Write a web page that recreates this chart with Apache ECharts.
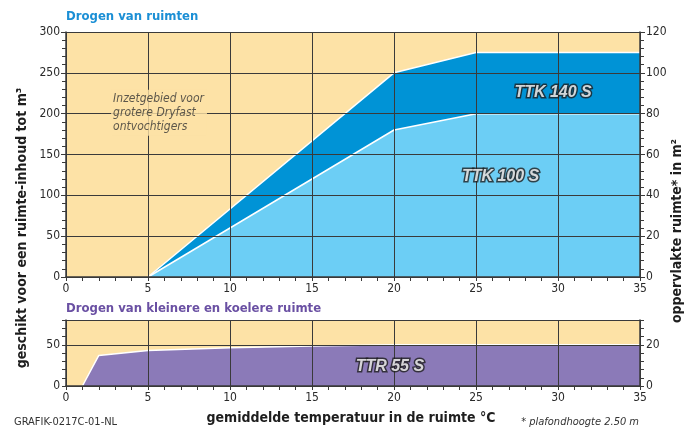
<!DOCTYPE html>
<html>
<head>
<meta charset="utf-8">
<script src="https://cdn.jsdelivr.net/npm/echarts@6/dist/echarts.min.js"></script>
<style>
	html, body { margin: 0; padding: 0; background: #fff; }
	#chart { width: 689px; height: 428px; }
</style>
</head>
<body>
<div id="chart"></div>
<script>
// 数据
let temps_ttk140 = [5, 20, 25, 35];
let vol_ttk140 = [0, 250, 275, 275];
let temps_ttk100 = [5, 20, 25, 35];
let vol_ttk100 = [0, 180, 200, 200];
let temps_ttr55 = [1, 2, 5, 10, 15, 20, 35];
let vol_ttr55 = [0, 37, 43, 46.5, 48.5, 50, 50];
let x_ticks = [0, 5, 10, 15, 20, 25, 30, 35];

let font = '"DejaVu Sans Condensed", "Liberation Sans Narrow", sans-serif';
let peach = '#FDE2A6';
let grid_color = '#3a3a3a';
let txt = '#2a2a2a';

let zip = (xs, ys) => xs.map((x, i) => [x, ys[i]]);

let chart = echarts.init(document.getElementById('chart'), null, { renderer: 'canvas' });

// 公共坐标轴样式
let x_axis = (grid) => ({
	type: 'value',
	gridIndex: grid,
	min: x_ticks[0],
	max: x_ticks[x_ticks.length - 1],
	interval: 5,
	z: 3,
	axisLine: { lineStyle: { color: grid_color, width: 1.5 } },
	axisTick: { show: true, length: 4, lineStyle: { color: grid_color } },
	minorTick: { show: true, splitNumber: 5, length: 4, lineStyle: { color: grid_color } },
	axisLabel: { color: txt, fontFamily: font, fontSize: 12, margin: 6 },
	splitLine: { show: true, lineStyle: { color: grid_color, width: 1 } },
});

let label_style = {
	show: true,
	color: '#fff',
	fontFamily: '"Liberation Sans", Arial, sans-serif',
	fontStyle: 'italic',
	fontWeight: 'bold',
	fontSize: 16,
	textBorderColor: '#1e1e1e',
	textBorderWidth: 3,
	position: 'inside',
	formatter: (p) => p.name,
};

let option = {
	animation: false,
	grid: [
		{ left: 66, right: 49, top: 32, height: 245, show: true, backgroundColor: peach, borderWidth: 0 },
		{ left: 66, right: 49, top: 320, height: 66, show: true, backgroundColor: peach, borderWidth: 0 },
	],
	xAxis: [x_axis(0), x_axis(1)],
	yAxis: [
		{
			type: 'value', gridIndex: 0, position: 'left', min: 0, max: 300, interval: 50, z: 3,
			axisLine: { show: true, lineStyle: { color: grid_color, width: 1.5 } },
			axisTick: { show: true, length: 5, lineStyle: { color: grid_color } },
			minorTick: { show: true, splitNumber: 5, length: 4, lineStyle: { color: grid_color } },
			axisLabel: { color: txt, fontFamily: font, fontSize: 12, margin: 6 },
			splitLine: { show: true, lineStyle: { color: grid_color, width: 1 } },
		},
		{
			type: 'value', gridIndex: 0, position: 'right', min: 0, max: 120, interval: 20, z: 3,
			axisLine: { show: true, lineStyle: { color: grid_color, width: 1.5 } },
			axisTick: { show: true, length: 5, lineStyle: { color: grid_color } },
			minorTick: { show: true, splitNumber: 5, length: 4, lineStyle: { color: grid_color } },
			axisLabel: { color: txt, fontFamily: font, fontSize: 12, margin: 6 },
			splitLine: { show: false },
		},
		{
			type: 'value', gridIndex: 1, position: 'left', min: 0, max: 80, interval: 10, z: 3,
			axisLine: { show: true, lineStyle: { color: grid_color, width: 1.5 } },
			axisTick: { show: true, length: 4, lineStyle: { color: grid_color } },
			axisLabel: {
				color: txt, fontFamily: font, fontSize: 12, margin: 6,
				formatter: (v) => (v === 0 || v === 50 ? String(v) : ''),
			},
			splitLine: { show: false },
		},
		{
			type: 'value', gridIndex: 1, position: 'right', min: 0, max: 32, interval: 4, z: 3,
			axisLine: { show: true, lineStyle: { color: grid_color, width: 1.5 } },
			axisTick: { show: true, length: 4, lineStyle: { color: grid_color } },
			axisLabel: {
				color: txt, fontFamily: font, fontSize: 12, margin: 6,
				formatter: (v) => (v === 0 || v === 20 ? String(v) : ''),
			},
			splitLine: { show: false },
		},
		// 下图只画 50 的网格线
		{
			type: 'value', gridIndex: 1, position: 'left', min: 0, max: 80, interval: 50, z: 3,
			axisLine: { show: false }, axisTick: { show: false }, axisLabel: { show: false },
			splitLine: { show: true, lineStyle: { color: grid_color, width: 1 } },
		},
	],
	series: [
		{
			name: 'TTK 140 S', type: 'line', xAxisIndex: 0, yAxisIndex: 0,
			data: zip(temps_ttk140, vol_ttk140), symbol: 'none', z: 1,
			lineStyle: { color: '#fff', width: 1.5 },
			areaStyle: { color: '#0093D6', opacity: 1 },
		},
		{
			name: 'TTK 100 S', type: 'line', xAxisIndex: 0, yAxisIndex: 0,
			data: zip(temps_ttk100, vol_ttk100), symbol: 'none', z: 1,
			lineStyle: { color: '#fff', width: 1.5 },
			areaStyle: { color: '#6CCEF5', opacity: 1 },
		},
		{
			name: 'TTR 55 S', type: 'line', xAxisIndex: 1, yAxisIndex: 2,
			data: zip(temps_ttr55, vol_ttr55), symbol: 'none', z: 1,
			lineStyle: { color: '#fff', width: 1.5 },
			areaStyle: { color: '#8B7AB8', opacity: 1 },
		},
		// 图中文字标注
		{
			type: 'scatter', xAxisIndex: 0, yAxisIndex: 0, symbolSize: 0, z: 10, silent: true,
			label: label_style,
			data: [
				{ name: 'TTK 140 S', value: [29.7, 226] },
				{ name: 'TTK 100 S', value: [26.5, 123] },
				{
					name: 'Inzetgebied voor\ngrotere Dryfast\nontvochtigers', value: [2.75, 201],
					label: {
						show: true, position: 'inside', formatter: (p) => p.name,
						color: '#333', fontFamily: font, fontStyle: 'italic', fontWeight: 'normal', fontSize: 12,
						lineHeight: 14, textBorderWidth: 0, align: 'left', verticalAlign: 'middle',
						backgroundColor: peach, padding: [2, 3, 2, 2],
					},
				},
			],
		},
		{
			type: 'scatter', xAxisIndex: 1, yAxisIndex: 2, symbolSize: 0, z: 10, silent: true,
			label: label_style,
			data: [{ name: 'TTR 55 S', value: [19.75, 23] }],
		},
	],
	graphic: [
		{ type: 'text', left: 66, top: 10, z: 10, style: { text: 'Drogen van ruimten', fill: '#1B8FD5', font: `bold 13px ${font}` } },
		{ type: 'text', left: 66, top: 302, z: 10, style: { text: 'Drogen van kleinere en koelere ruimte', fill: '#6A50A3', font: `bold 13px ${font}` } },
		{
			type: 'text', x: 22, y: 228, rotation: Math.PI / 2, z: 10,
			style: { text: 'geschikt voor een ruimte-inhoud tot m³', fill: '#1e1e1e', font: `bold 14px ${font}`, align: 'center', verticalAlign: 'middle' },
		},
		{
			type: 'text', x: 677, y: 231, rotation: Math.PI / 2, z: 10,
			style: { text: 'oppervlakte ruimte* in m²', fill: '#1e1e1e', font: `bold 14px ${font}`, align: 'center', verticalAlign: 'middle' },
		},
		{
			type: 'text', x: 351, y: 418, z: 10,
			style: { text: 'gemiddelde temperatuur in de ruimte °C', fill: '#1e1e1e', font: `bold 14px ${font}`, align: 'center', verticalAlign: 'middle' },
		},
		{
			type: 'text', x: 14, y: 422, z: 10,
			style: { text: 'GRAFIK-0217C-01-NL', fill: '#333', font: `11px ${font}`, align: 'left', verticalAlign: 'middle' },
		},
		{
			type: 'text', x: 639, y: 422, z: 10,
			style: { text: '* plafondhoogte 2.50 m', fill: '#333', font: `italic 11px ${font}`, align: 'right', verticalAlign: 'middle' },
		},
	],
};

chart.setOption(option);
</script>
</body>
</html>
